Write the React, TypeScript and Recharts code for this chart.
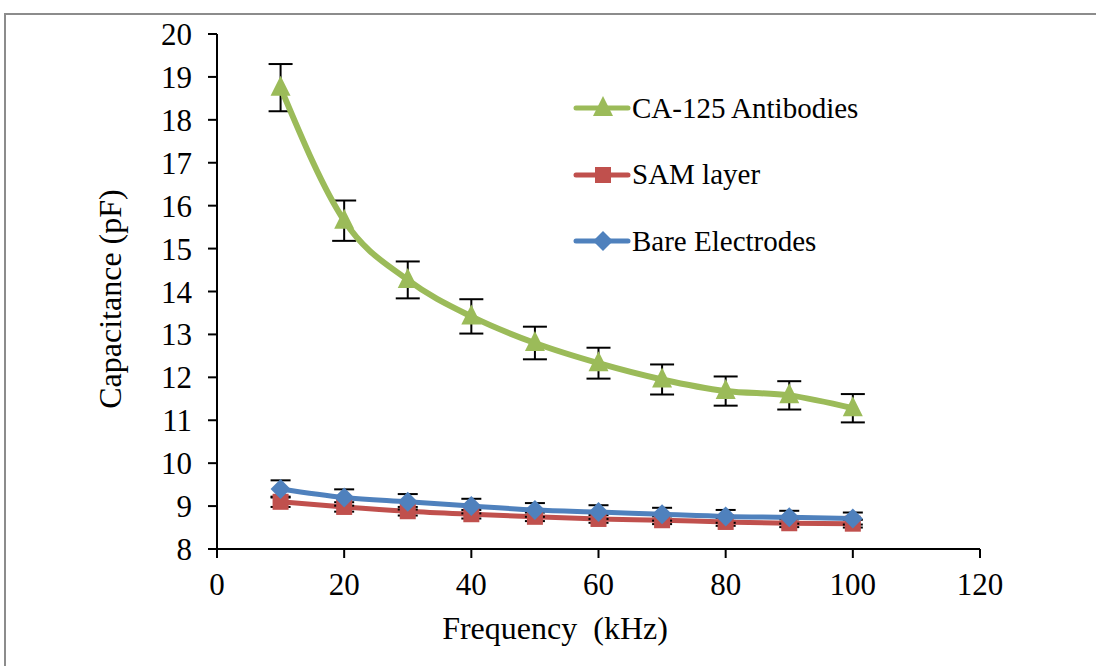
import { LineChart, Line, XAxis, YAxis, ErrorBar, Label } from "recharts";

const frequency = [10, 20, 30, 40, 50, 60, 70, 80, 90, 100];
const antibodies = [18.75, 15.65, 14.27, 13.42, 12.8, 12.33, 11.95, 11.68, 11.58, 11.28];
const antibodiesErr = [0.55, 0.47, 0.43, 0.4, 0.38, 0.36, 0.35, 0.34, 0.33, 0.33];
const samLayer = [9.1, 8.98, 8.88, 8.81, 8.75, 8.7, 8.67, 8.63, 8.6, 8.59];
const samErr = [0.12, 0.11, 0.1, 0.1, 0.1, 0.09, 0.09, 0.09, 0.09, 0.09];
const bareElectrodes = [9.4, 9.2, 9.1, 9.0, 8.91, 8.86, 8.81, 8.76, 8.74, 8.71];
const bareErr = [0.2, 0.19, 0.18, 0.17, 0.16, 0.16, 0.15, 0.15, 0.15, 0.14];
const xTicks = [0, 20, 40, 60, 80, 100, 120];
const yTicks = [8, 9, 10, 11, 12, 13, 14, 15, 16, 17, 18, 19, 20];

const GREEN = "#9BBB59";
const RED = "#C0504D";
const BLUE = "#4F81BD";
const FONT = "'Liberation Serif', 'Times New Roman', serif";

const data = frequency.map((f, i) => ({
  freq: f,
  ca: antibodies[i],
  caErr: antibodiesErr[i],
  sam: samLayer[i],
  samErr: samErr[i],
  bare: bareElectrodes[i],
  bareErr: bareErr[i],
}));

const Triangle = ({ cx, cy, fill }: any) => (
  <path d={`M${cx},${cy - 12} L${cx + 10},${cy + 8} L${cx - 10},${cy + 8} Z`} fill={fill} />
);
const Square = ({ cx, cy, fill }: any) => (
  <rect x={cx - 8} y={cy - 8} width={16} height={16} fill={fill} />
);
const Diamond = ({ cx, cy, fill }: any) => (
  <path d={`M${cx},${cy - 10} L${cx + 10},${cy} L${cx},${cy + 10} L${cx - 10},${cy} Z`} fill={fill} />
);

const legendItems = [
  { name: "CA-125 Antibodies", color: GREEN, Shape: Triangle },
  { name: "SAM layer", color: RED, Shape: Square },
  { name: "Bare Electrodes", color: BLUE, Shape: Diamond },
];

// legend drawn as plain html on top of the plot
const LegendBox = () => (
  <div
    style={{
      position: "absolute",
      left: 572,
      top: 75,
      fontFamily: FONT,
      fontSize: 29,
      color: "#000",
      lineHeight: 1,
    }}
  >
    {legendItems.map(({ name, color, Shape }) => (
      <div key={name} style={{ display: "flex", alignItems: "center", height: 66.5 }}>
        <svg width={60} height={30} style={{ flex: "none" }}>
          <line x1={4} y1={15} x2={56} y2={15} stroke={color} strokeWidth={5} strokeLinecap="round" />
          <Shape cx={31} cy={15} fill={color} />
        </svg>
        <span style={{ whiteSpace: "nowrap" }}>{name}</span>
      </div>
    ))}
  </div>
);

const XTitle = () => (
  <text x={555} y={639} textAnchor="middle" fill="#000" fontSize={32} fontFamily={FONT}>
    {"Frequency\u00a0\u00a0(kHz)"}
  </text>
);

const YTitle = () => (
  <text
    x={121}
    y={299}
    textAnchor="middle"
    fill="#000"
    fontSize={32}
    fontFamily={FONT}
    transform="rotate(-90, 121, 299)"
  >
    Capacitance (pF)
  </text>
);

export default function App() {
  return (
    <div style={{ position: "absolute", left: 0, top: 0, width: 1096, height: 666, background: "#fff", overflow: "hidden" }}>
      <div
        style={{
          position: "absolute",
          left: 4,
          top: 13,
          width: 1110,
          height: 700,
          border: "2px solid #8c8c8c",
          boxSizing: "border-box",
        }}
      />
      <LineChart
        width={1096}
        height={666}
        data={data}
        margin={{ top: 34, right: 116, bottom: 57, left: 157 }}
        style={{ position: "absolute", left: 0, top: 0 }}
      >
        <XAxis
          dataKey="freq"
          type="number"
          domain={[0, 120]}
          ticks={xTicks}
          height={60}
          stroke="#000"
          strokeWidth={2}
          tickSize={9}
          tick={{ fill: "#000", fontSize: 31, fontFamily: FONT }}
          tickMargin={15}
        >
          <Label content={<XTitle />} />
        </XAxis>
        <YAxis
          type="number"
          domain={[8, 20]}
          ticks={yTicks}
          width={60}
          stroke="#000"
          strokeWidth={2}
          tickSize={9}
          interval={0}
          tick={{ fill: "#000", fontSize: 31, fontFamily: FONT }}
          tickMargin={16}
        >
          <Label content={<YTitle />} />
        </YAxis>
        <Line
          type="monotone"
          dataKey="sam"
          stroke={RED}
          strokeWidth={5}
          dot={<Square fill={RED} />}
          activeDot={false}
          isAnimationActive={false}
        >
          <ErrorBar dataKey="samErr" direction="y" width={10} stroke="#000" strokeWidth={2} />
        </Line>
        <Line
          type="monotone"
          dataKey="bare"
          stroke={BLUE}
          strokeWidth={5}
          dot={<Diamond fill={BLUE} />}
          activeDot={false}
          isAnimationActive={false}
        >
          <ErrorBar dataKey="bareErr" direction="y" width={10} stroke="#000" strokeWidth={2} />
        </Line>
        <Line
          type="monotone"
          dataKey="ca"
          stroke={GREEN}
          strokeWidth={6}
          dot={<Triangle fill={GREEN} />}
          activeDot={false}
          isAnimationActive={false}
        >
          <ErrorBar dataKey="caErr" direction="y" width={12} stroke="#000" strokeWidth={2} />
        </Line>
      </LineChart>
      <LegendBox />
    </div>
  );
}
